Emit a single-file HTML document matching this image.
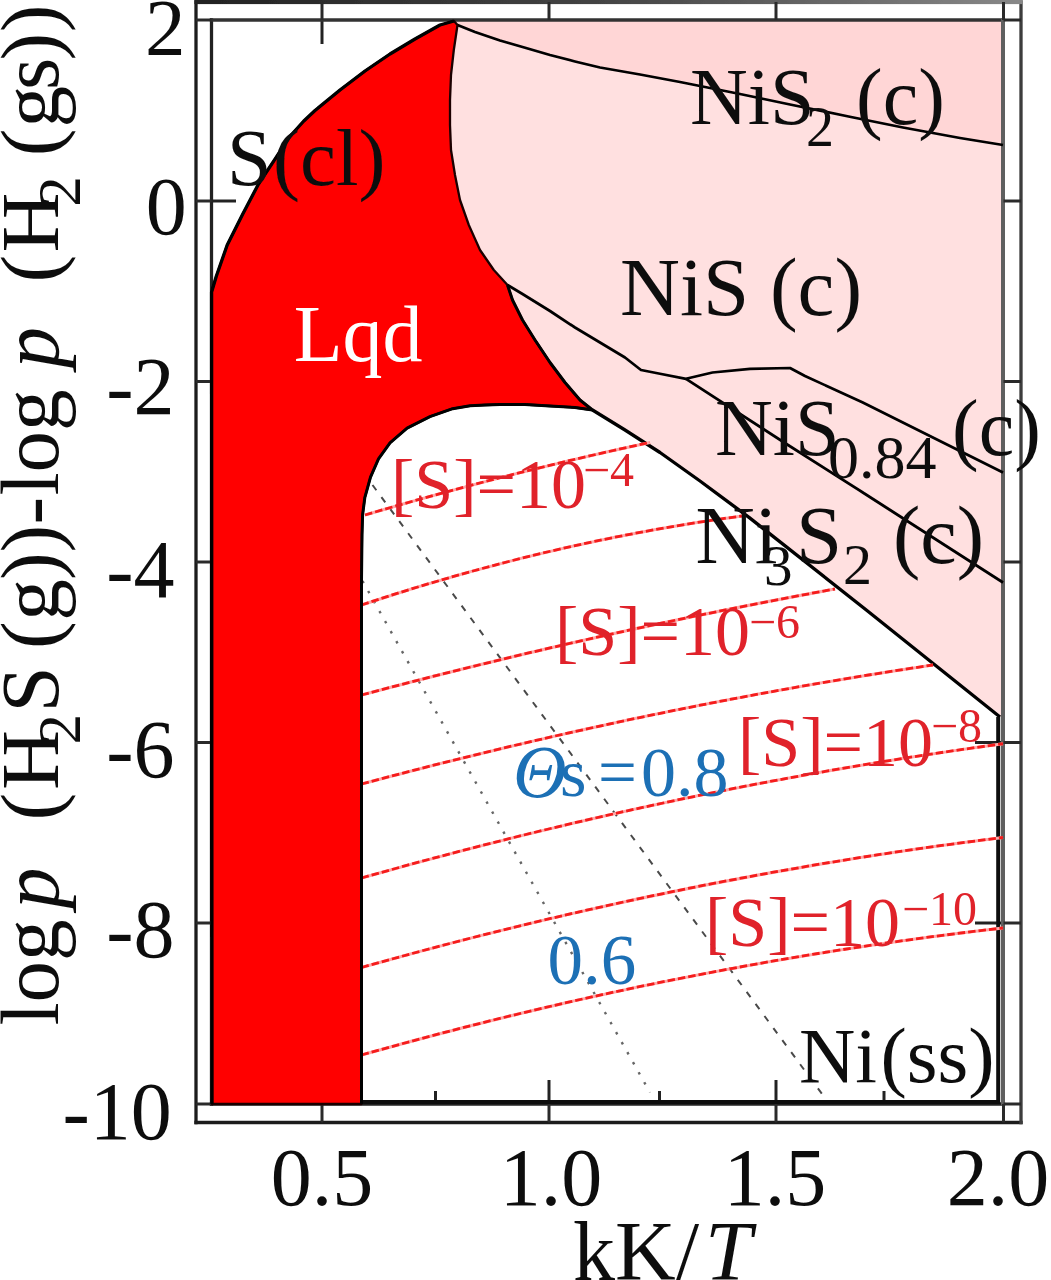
<!DOCTYPE html>
<html lang="en"><head><meta charset="utf-8"><title>Ni-S phase diagram</title>
<style>html,body{margin:0;padding:0;background:#fff;}body{width:1051px;height:1280px;overflow:hidden;}svg{display:block;}text{font-family:"Liberation Serif", "DejaVu Serif", serif;}</style></head><body>
<svg width="1051" height="1280" viewBox="0 0 1051 1280">
<rect width="1051" height="1280" fill="#fff"/>
<g id="plot" filter="url(#soft)">
<defs><filter id="soft" x="-2%" y="-2%" width="104%" height="104%"><feGaussianBlur stdDeviation="0.7"/></filter></defs>
<g stroke="#222" stroke-width="3" fill="none">
<line x1="322" y1="20.0" x2="322" y2="44"/>
<line x1="549" y1="20.0" x2="549" y2="44"/>
<line x1="776" y1="20.0" x2="776" y2="44"/>
<line x1="322" y1="1080" x2="322" y2="1104.0"/>
<line x1="549" y1="1080" x2="549" y2="1104.0"/>
<line x1="776" y1="1080" x2="776" y2="1104.0"/>
<line x1="435.5" y1="1091" x2="435.5" y2="1104.0"/>
<line x1="659.5" y1="1091" x2="659.5" y2="1104.0"/>
<line x1="884" y1="1091" x2="884" y2="1104.0"/>
<line x1="211.5" y1="201" x2="236" y2="201"/>
<line x1="975" y1="201" x2="1003.5" y2="201"/>
<line x1="211.5" y1="381.5" x2="236" y2="381.5"/>
<line x1="975" y1="381.5" x2="1003.5" y2="381.5"/>
<line x1="211.5" y1="562" x2="236" y2="562"/>
<line x1="975" y1="562" x2="1003.5" y2="562"/>
<line x1="211.5" y1="742.5" x2="236" y2="742.5"/>
<line x1="975" y1="742.5" x2="1003.5" y2="742.5"/>
<line x1="211.5" y1="923" x2="236" y2="923"/>
<line x1="975" y1="923" x2="1003.5" y2="923"/>
</g>
<polygon points="454.0,20.0 1003.5,20.0 1003.5,717.0 1000.0,717.0 866.3,610.0 749.0,517.4 700.0,481.0 660.0,452.5 625.0,430.0 592.5,410.0 592.5,410.0 580.0,400.0 565.0,382.5 550.0,362.5 535.0,340.0 522.5,320.0 512.5,300.0 507.5,285.0 493.8,270.0 480.0,250.0 468.8,225.0 460.0,200.0 455.0,175.0 451.0,150.0 450.0,125.0 450.0,100.0 451.0,75.0 453.8,50.0 457.5,25.0" fill="#ffe0e0"/>
<polygon points="454.0,20.0 457.5,25.0 475.0,32.0 500.0,40.5 526.0,48.0 550.0,55.0 575.0,61.5 600.0,67.5 640.0,74.5 680.0,82.0 740.0,94.0 790.0,104.5 851.0,117.0 903.0,127.5 960.0,138.0 1003.0,145.0 1003.5,20.0" fill="#ffd6d6"/>
<defs><linearGradient id="topg" x1="0" y1="0" x2="1" y2="0"><stop offset="0" stop-color="#222"/><stop offset="0.5" stop-color="#444"/><stop offset="1" stop-color="#888"/></linearGradient></defs>
<g fill="none" stroke-width="3.3" stroke-linecap="square">
<line x1="211.5" y1="20.0" x2="211.5" y2="1104.0" stroke="#222"/>
<line x1="211.5" y1="1104.0" x2="1003.5" y2="1104.0" stroke="#222"/>
<line x1="211.5" y1="20.0" x2="1003.5" y2="20.0" stroke="#333"/>
<line x1="1003.0" y1="20.0" x2="1003.0" y2="1104.0" stroke="#5e5e5e" stroke-width="4"/>
<line x1="196.0" y1="2.0" x2="196.0" y2="1122.5" stroke="#1c1c1c"/>
<line x1="196.0" y1="1122.5" x2="1021.0" y2="1122.5" stroke="#1c1c1c"/>
<line x1="1021.0" y1="2.0" x2="1021.0" y2="1122.5" stroke="#3c3c3c"/>
</g>
<rect x="194.4" y="-0.5" width="828.2" height="4.6" fill="url(#topg)"/>
<g stroke="#2a2a2a" stroke-width="3" fill="none">
<line x1="322" y1="2.0" x2="322" y2="20.0"/>
<line x1="549" y1="2.0" x2="549" y2="20.0"/>
<line x1="776" y1="2.0" x2="776" y2="20.0"/>
<line x1="1003.5" y1="2.0" x2="1003.5" y2="20.0"/>
<line x1="322" y1="1104.0" x2="322" y2="1122.5"/>
<line x1="549" y1="1104.0" x2="549" y2="1122.5"/>
<line x1="776" y1="1104.0" x2="776" y2="1122.5"/>
<line x1="1003.5" y1="1104.0" x2="1003.5" y2="1122.5"/>
<line x1="196.0" y1="20.0" x2="211.5" y2="20.0"/>
<line x1="1003.5" y1="20.0" x2="1021.0" y2="20.0"/>
<line x1="196.0" y1="201" x2="211.5" y2="201"/>
<line x1="1003.5" y1="201" x2="1021.0" y2="201"/>
<line x1="196.0" y1="381.5" x2="211.5" y2="381.5"/>
<line x1="1003.5" y1="381.5" x2="1021.0" y2="381.5"/>
<line x1="196.0" y1="562" x2="211.5" y2="562"/>
<line x1="1003.5" y1="562" x2="1021.0" y2="562"/>
<line x1="196.0" y1="742.5" x2="211.5" y2="742.5"/>
<line x1="1003.5" y1="742.5" x2="1021.0" y2="742.5"/>
<line x1="196.0" y1="923" x2="211.5" y2="923"/>
<line x1="1003.5" y1="923" x2="1021.0" y2="923"/>
<line x1="196.0" y1="1104.0" x2="211.5" y2="1104.0"/>
<line x1="1003.5" y1="1104.0" x2="1021.0" y2="1104.0"/>
</g>
<g stroke="#000" stroke-width="2.7" fill="none" stroke-linejoin="round">
<polyline points="457.5,25.0 475.0,32.0 500.0,40.5 526.0,48.0 550.0,55.0 575.0,61.5 600.0,67.5 640.0,74.5 680.0,82.0 740.0,94.0 790.0,104.5 851.0,117.0 903.0,127.5 960.0,138.0 1003.0,145.0"/>
<polyline points="507.5,285.0 522.5,294.0 550.0,311.0 575.0,327.5 600.0,342.5 625.0,357.5 641.0,370.0 660.0,373.8 686.0,378.8 712.5,372.5 750.0,368.8 790.0,368.0 805.0,376.0 862.8,402.5 1003.0,472.5"/>
<polyline points="686.0,378.8 788.0,445.0 862.8,492.5 1003.0,582.5"/>
<polyline points="592.5,410.0 625.0,430.0 660.0,452.5 700.0,481.0 749.0,517.4 866.3,610.0 1000.0,717.0" stroke-width="3.3"/>
</g>
<polyline points="361.5,1102 998.2,1102 998.2,717" fill="none" stroke="#111" stroke-width="4"/>
<line x1="372.5" y1="485" x2="825" y2="1098" stroke="#4a4a4a" stroke-width="2" stroke-dasharray="6.5 8.5"/>
<line x1="362.5" y1="581" x2="650" y2="1092.5" stroke="#666" stroke-width="2.4" stroke-dasharray="2.5 9"/>
<g stroke="#ffa8a8" stroke-width="3" fill="none">
<path d="M365,515 Q507.5,472.85 650,442.5"/>
<path d="M361.5,605 Q551.25,541.5 742,516"/>
<path d="M361.5,695 Q597.75,632.0 835,589"/>
<path d="M361.5,784 Q646.75,707.5 933,665"/>
<path d="M361.5,878 Q681.75,787.125 1003,743.75"/>
<path d="M361.5,967.5 Q681.75,876.9000000000001 1003,837.5"/>
<path d="M361.5,1055 Q681.75,964.5 1003,928"/>
</g>
<g stroke="#f51c1c" stroke-width="2.8" fill="none" stroke-dasharray="7.5 3">
<path d="M365,515 Q507.5,472.85 650,442.5"/>
<path d="M361.5,605 Q551.25,541.5 742,516"/>
<path d="M361.5,695 Q597.75,632.0 835,589"/>
<path d="M361.5,784 Q646.75,707.5 933,665"/>
<path d="M361.5,878 Q681.75,787.125 1003,743.75"/>
<path d="M361.5,967.5 Q681.75,876.9000000000001 1003,837.5"/>
<path d="M361.5,1055 Q681.75,964.5 1003,928"/>
</g>
<polygon points="212.0,1104.0 211.6,292.0 216.3,276.2 227.2,245.0 242.9,213.8 258.5,184.0 274.0,160.6 289.8,136.5 303.8,121.0 315.0,110.5 340.0,90.0 365.0,71.0 390.0,54.0 415.0,39.0 440.0,25.0 454.0,21.0 457.5,25.0 453.8,50.0 451.0,75.0 450.0,100.0 450.0,125.0 451.0,150.0 455.0,175.0 460.0,200.0 468.8,225.0 480.0,250.0 493.8,270.0 507.5,285.0 512.5,300.0 522.5,320.0 535.0,340.0 550.0,362.5 565.0,382.5 580.0,400.0 592.5,410.0 575.0,407.5 550.0,406.0 525.0,404.5 500.0,404.5 485.0,405.0 470.0,405.8 452.7,408.7 429.9,416.7 407.1,428.1 390.0,442.9 378.5,458.9 370.5,477.2 364.8,497.7 362.6,514.9 362.0,535.0 361.5,580.0 361.5,1104.0" fill="#ff0000" stroke="#1a0000" stroke-width="2.3" stroke-linejoin="round"/>
<polyline points="212.0,1104.0 211.6,292.0 216.3,276.2 227.2,245.0 242.9,213.8 258.5,184.0 274.0,160.6 289.8,136.5 303.8,121.0 315.0,110.5 340.0,90.0 365.0,71.0 390.0,54.0 415.0,39.0 440.0,25.0 454.0,21.0" fill="none" stroke="#000" stroke-width="3.3" stroke-linejoin="round"/>
<polyline points="507.5,285.0 512.5,300.0 522.5,320.0 535.0,340.0 550.0,362.5 565.0,382.5 580.0,400.0 592.5,410.0 575.0,407.5 550.0,406.0 525.0,404.5 500.0,404.5 485.0,405.0 470.0,405.8 452.7,408.7 429.9,416.7 407.1,428.1 390.0,442.9 378.5,458.9 370.5,477.2 364.8,497.7 362.6,514.9 362.0,535.0 361.5,580.0 361.5,1104.0" fill="none" stroke="#000" stroke-width="3" stroke-linejoin="round"/>
<text x="227" y="185" font-size="80" fill="#111" >S</text>
<text x="273" y="185" font-size="81" fill="#111" >(cl)</text>
<text x="293.75" y="361" font-size="80" fill="#fff" >Lqd</text>
<text x="690" y="124" font-size="80" fill="#111" >NiS</text>
<text x="806" y="146" font-size="56" fill="#111" >2</text>
<text x="856" y="124" font-size="80" fill="#111" >(c)</text>
<text x="620" y="315" font-size="83" fill="#111" >NiS (c)</text>
<text x="715" y="455" font-size="80" fill="#111" >NiS</text>
<text x="828" y="478" font-size="62" fill="#111" >0.84</text>
<text x="952" y="455" font-size="80" fill="#111" >(c)</text>
<text x="695.5" y="562.5" font-size="82" fill="#111" >Ni</text>
<text x="764" y="585" font-size="57" fill="#111" >3</text>
<text x="796" y="563" font-size="83" fill="#111" >S</text>
<text x="843" y="584" font-size="58" fill="#111" >2</text>
<text x="893" y="562.5" font-size="82" fill="#111" >(c)</text>
<text x="799" y="1082" font-size="78" fill="#111" >Ni</text>
<text x="880.5" y="1082" font-size="79" fill="#111" >(ss)</text>
<text x="391" y="507.5" font-size="70" fill="#e0222a" >[S]=10</text>
<text x="583" y="485.5" font-size="48" fill="#e0222a" >−4</text>
<text x="555" y="655" font-size="70" fill="#e0222a" >[S]=10</text>
<text x="749" y="638" font-size="48" fill="#e0222a" >−6</text>
<text x="738" y="766" font-size="70" fill="#e0222a" >[S]=10</text>
<text x="931" y="742" font-size="48" fill="#e0222a" >−8</text>
<text x="705" y="946" font-size="70" fill="#e0222a" >[S]=10</text>
<text x="902" y="924.5" font-size="48" fill="#e0222a" >−10</text>
<text x="513" y="797" font-size="74" fill="#1f70b5" font-style="italic">Θ</text>
<text x="560" y="796" font-size="68" fill="#1f70b5" >s</text>
<text x="598" y="796" font-size="69" fill="#1f70b5" >=</text>
<text x="641" y="796" font-size="70" fill="#1f70b5" >0.8</text>
<text x="547.5" y="984" font-size="71" fill="#1f70b5" >0.6</text>
<text x="322" y="1204.5" font-size="82" fill="#111" text-anchor="middle">0.5</text>
<text x="551" y="1204.5" font-size="82" fill="#111" text-anchor="middle">1.0</text>
<text x="775" y="1204.5" font-size="82" fill="#111" text-anchor="middle">1.5</text>
<text x="998" y="1204.5" font-size="82" fill="#111" text-anchor="middle">2.0</text>
<text x="145" y="55" font-size="81" fill="#111" >2</text>
<text x="145.8" y="234" font-size="82" fill="#111" >0</text>
<text x="106.3" y="414" font-size="82" fill="#111" >-2</text>
<text x="106.3" y="597" font-size="82" fill="#111" >-4</text>
<text x="106.3" y="777" font-size="82" fill="#111" >-6</text>
<text x="106.3" y="957" font-size="82" fill="#111" >-8</text>
<text x="62.5" y="1139" font-size="82" fill="#111" >-10</text>
<text x="573" y="1279.5" font-size="84" fill="#111" >kK/</text>
<text x="705" y="1279.5" font-size="84" fill="#111" font-style="italic">T</text>
<text transform="translate(57.5,1025.5) rotate(-90)" font-size="83" fill="#111" >log</text>
<text transform="translate(57.5,908.5) rotate(-90)" font-size="82" fill="#111" font-style="italic">p</text>
<text transform="translate(57.5,820.6) rotate(-90)" font-size="83" fill="#111" >(</text>
<text transform="translate(57.5,790) rotate(-90)" font-size="83" fill="#111" >H</text>
<text transform="translate(79.5,744.5) rotate(-90)" font-size="61" fill="#111" >2</text>
<text transform="translate(57.5,712.5) rotate(-90)" font-size="83" fill="#111" >S</text>
<text transform="translate(57.5,649) rotate(-90)" font-size="83" fill="#111" >(</text>
<text transform="translate(57.5,620.7) rotate(-90)" font-size="83" fill="#111" >g</text>
<text transform="translate(57.5,580.1) rotate(-90)" font-size="83" fill="#111" >)</text>
<text transform="translate(57.5,552.6) rotate(-90)" font-size="83" fill="#111" >)</text>
<text transform="translate(57.5,524.5) rotate(-90)" font-size="83" fill="#111" >-</text>
<text transform="translate(57.5,495.5) rotate(-90)" font-size="83" fill="#111" >log</text>
<text transform="translate(57.5,368) rotate(-90)" font-size="82" fill="#111" font-style="italic">p</text>
<text transform="translate(57.5,282.5) rotate(-90)" font-size="83" fill="#111" >(</text>
<text transform="translate(57.5,252.6) rotate(-90)" font-size="83" fill="#111" >H</text>
<text transform="translate(79.5,206.8) rotate(-90)" font-size="61" fill="#111" >2</text>
<text transform="translate(57.5,156.3) rotate(-90)" font-size="83" fill="#111" >(</text>
<text transform="translate(57.5,127.6) rotate(-90)" font-size="83" fill="#111" >g</text>
<text transform="translate(57.5,90) rotate(-90)" font-size="83" fill="#111" >s</text>
<text transform="translate(57.5,60.6) rotate(-90)" font-size="83" fill="#111" >)</text>
<text transform="translate(57.5,32.3) rotate(-90)" font-size="83" fill="#111" >)</text>
</g></svg></body></html>
